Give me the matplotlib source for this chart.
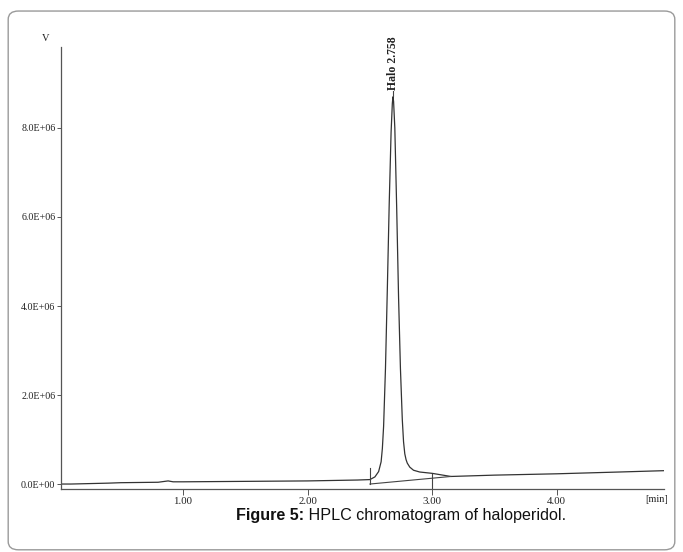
import matplotlib
matplotlib.use("Agg")
import matplotlib.pyplot as plt
from matplotlib.patches import FancyBboxPatch
from matplotlib.offsetbox import TextArea, HPacker, AnchoredOffsetbox

# chromatogram trace (time in min, signal in 1E6 V)
t = [0.02, 0.10, 0.40, 0.50, 0.80, 0.88, 0.92, 1.00, 1.50, 2.00, 2.40, 2.50,
     2.54, 2.57, 2.59, 2.60, 2.61, 2.625, 2.64, 2.655, 2.67, 2.68, 2.685, 2.69,
     2.70, 2.715, 2.73, 2.745, 2.76, 2.77, 2.78, 2.79, 2.80, 2.82, 2.85, 2.90,
     3.00, 3.15, 3.50, 4.00, 4.50, 4.86]
sig = [0.00, 0.00, 0.02, 0.03, 0.04, 0.07, 0.05, 0.05, 0.06, 0.07, 0.09, 0.10,
       0.16, 0.28, 0.50, 0.80, 1.30, 2.60, 4.40, 6.30, 7.90, 8.55, 8.70, 8.60,
       8.00, 6.20, 4.20, 2.60, 1.45, 0.95, 0.68, 0.55, 0.47, 0.38, 0.31, 0.27,
       0.24, 0.17, 0.20, 0.23, 0.27, 0.30]

# integration baseline and markers
base_t = [2.50, 3.15]
base_y = [0.00, 0.17]
marks = [(2.50, 0.00, 0.36), (3.00, -0.12, 0.22)]

xticks = [1.0, 2.0, 3.0, 4.0]
xlabels = ["1.00", "2.00", "3.00", "4.00"]
yticks = [0, 2, 4, 6, 8]
ylabels = ["0.0E+00", "2.0E+06", "4.0E+06", "6.0E+06", "8.0E+06"]
peak_label = "Halo 2.758"
peak_t = 2.685

fig = plt.figure(figsize=(6.83, 5.52), dpi=100)
fig.patches.append(FancyBboxPatch((0.012, 0.004), 0.976, 0.976,
                                  boxstyle="round,pad=0,rounding_size=0.015",
                                  transform=fig.transFigure, fill=False,
                                  edgecolor="#9a9a9a", linewidth=1.0))

ax = fig.add_axes([0.0893, 0.1141, 0.8827, 0.8008])
serif = "Liberation Serif"

ax.plot(t, sig, color="#333333", linewidth=0.9)
ax.plot(base_t, base_y, color="#444444", linewidth=0.8)
for mx, y0, y1 in marks:
    ax.plot([mx, mx], [y0, y1], color="#444444", linewidth=0.8)
ax.plot([peak_t, peak_t], [8.72, 8.82], color="#444444", linewidth=0.8,
        clip_on=False)

ax.set_xlim(0.02, 4.86)
ax.set_ylim(-0.112, 9.82)
ax.spines["top"].set_visible(False)
ax.spines["right"].set_visible(False)
for s in ("left", "bottom"):
    ax.spines[s].set_color("#555555")
    ax.spines[s].set_linewidth(0.9)

ax.set_xticks(xticks)
ax.set_xticklabels(xlabels, fontfamily=serif, fontsize=7.8)
ax.set_yticks(yticks)
ax.set_yticklabels(ylabels, fontfamily=serif, fontsize=7.2)
ax.tick_params(axis="x", direction="out", length=4, width=0.7, colors="#555555",
               labelcolor="#222222", pad=1.5)
ax.tick_params(axis="y", direction="out", length=3, width=0.7, colors="#555555",
               labelcolor="#222222", pad=1)

ax.text(peak_t, 8.85, peak_label, rotation=90, ha="center", va="bottom",
        fontfamily=serif, fontsize=8.5, fontweight="bold", color="#222222",
        clip_on=False)
ax.text(-0.1, 10.0, "V", ha="center", va="center", fontfamily=serif,
        fontsize=7.5, color="#222222", clip_on=False)
ax.text(4.80, -0.25, "[min]", ha="center", va="top", fontfamily=serif,
        fontsize=7.5, color="#222222", clip_on=False)

# caption with bold prefix
cap = HPacker(children=[
    TextArea("Figure 5:", textprops=dict(fontfamily="Liberation Sans", fontsize=11.6,
                                         fontweight="bold", color="#111111")),
    TextArea(" HPLC chromatogram of haloperidol.",
             textprops=dict(fontfamily="Liberation Sans", fontsize=11.6,
                            color="#111111"))],
    align="baseline", pad=0, sep=0)
box = AnchoredOffsetbox(loc="center", child=cap, frameon=False,
                        bbox_to_anchor=(0.587, 0.066), bbox_transform=fig.transFigure,
                        borderpad=0, pad=0)
fig.add_artist(box)

fig.savefig("out.png", dpi=100)
